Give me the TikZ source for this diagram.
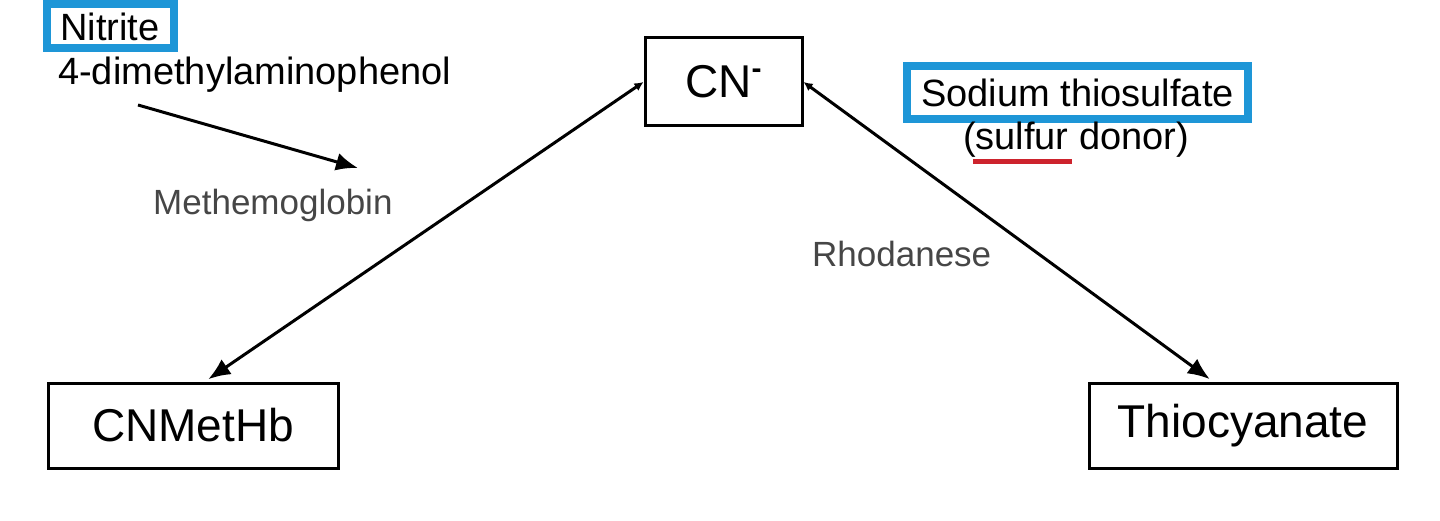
\documentclass[tikz,border=0pt]{standalone}
\usepackage{fontspec}
\setmainfont{Liberation Sans}
\usetikzlibrary{arrows.meta, positioning, calc}
\definecolor{boxblue}{RGB}{30,150,215}
\definecolor{lblgray}{RGB}{70,70,70}
\definecolor{ulred}{RGB}{205,35,45}

\begin{document}
\begin{tikzpicture}[x=1pt, y=-1pt,
    chem/.style={draw, line width=3pt, inner sep=0pt, font=\fontsize{46}{50}\selectfont},
    agent/.style={draw=boxblue, line width=8pt, inner sep=0pt, font=\fontsize{38}{42}\selectfont},
    txt/.style={inner sep=0pt, anchor=base west, font=\fontsize{38}{42}\selectfont},
    enz/.style={txt, text=lblgray, font=\fontsize{35}{40}\selectfont},
    react/.style={line width=3pt, shorten >=4pt, {Latex[length=9pt,width=9pt]}-{Latex[length=22pt,width=18pt]}},
    point/.style={line width=3pt, -{Latex[length=22pt,width=18pt]}}]
  \useasboundingbox (0,0) rectangle (1440,521);

  % compounds
  \node[chem, minimum width=157pt, minimum height=88pt] (cn) at (723.5,82) {CN\raisebox{19pt}{\fontsize{30}{30}\selectfont\bfseries -}};
  \node[chem, minimum width=290pt, minimum height=85pt] (metHb) at (193,425.5) {CNMetHb};
  \node[chem, minimum width=308pt, minimum height=85pt] (thio) at (1243,425.5) {Thiocyanate};

  % antidotes
  \node[agent, minimum width=127pt, minimum height=44pt] (nitrite) at (110,26.5) {Nitrite};
  \node[txt] (dmap) at (58,85) {4-dimethylaminophenol};
  \node[agent, minimum width=341pt, minimum height=53pt] (sts) at (1077.5,92.5) {Sodium thiosulfate};
  \node[inner sep=0pt, anchor=base, font=\fontsize{38}{42}\selectfont] (donor) at (1076,150) {(sulfur donor)};
  \draw[ulred, line width=5pt] (973,162) -- (1072,162);

  % labels
  \node[enz] (methb) at (153,215) {Methemoglobin};
  \node[enz] (rhod) at (812,267) {Rhodanese};

  % arrows
  \coordinate (mStart) at (138,105);
  \coordinate (mEnd) at (358,168);
  \draw[point] (mStart) -- (mEnd);
  \draw[react] (cn.west) -- ([xshift=12pt]metHb.north);
  \draw[react] (cn.east) -- ([xshift=-30pt]thio.north);
\end{tikzpicture}
\end{document}
